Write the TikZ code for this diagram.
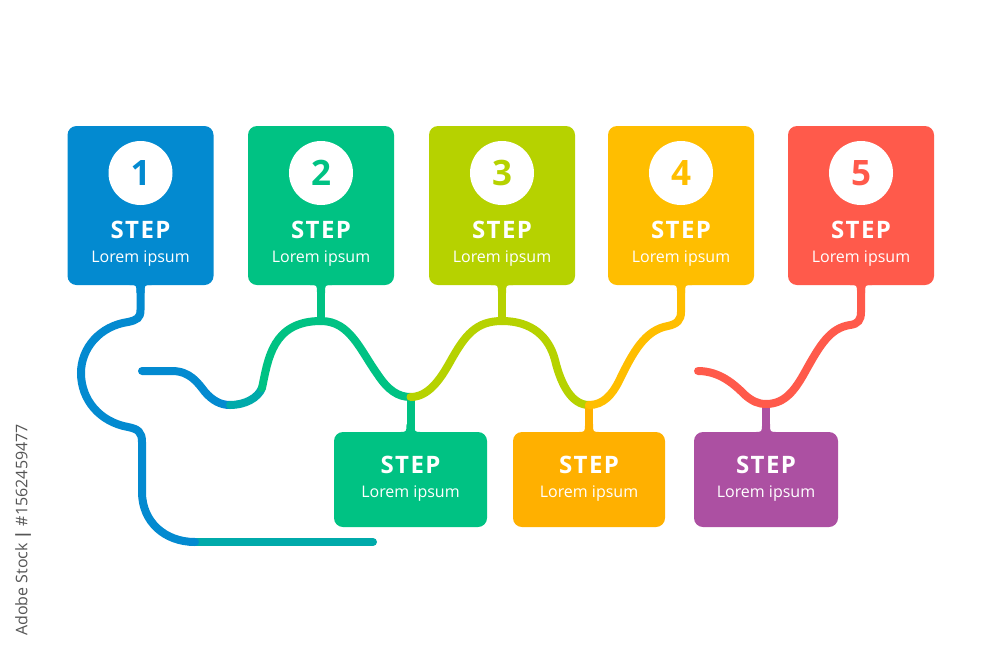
\documentclass[tikz,border=0pt]{standalone}
\usepackage{fontspec}
\setmainfont{Open Sans}
\definecolor{stepblue}{RGB}{3,138,208}
\definecolor{stepgreen}{RGB}{0,194,131}
\definecolor{steplime}{RGB}{182,210,0}
\definecolor{stepyellow}{RGB}{255,190,0}
\definecolor{stepred}{RGB}{255,90,75}
\definecolor{steporange}{RGB}{255,176,0}
\definecolor{steppurple}{RGB}{172,80,162}
\definecolor{stepteal}{RGB}{0,170,170}
\definecolor{markgray}{RGB}{85,85,85}

\begin{document}
\begin{tikzpicture}[x=1pt,y=-1pt,
    topbox/.style={rounded corners=9pt, minimum width=146pt, minimum height=159pt, inner sep=0pt},
    lowbox/.style={rounded corners=9pt, minimum height=95pt, inner sep=0pt},
    numdisc/.style={circle, fill=white, minimum size=64pt, inner sep=0pt, font=\fontsize{35}{35}\selectfont\bfseries},
    steptxt/.style={text=white, inner sep=0pt, font=\fontsize{24}{24}\selectfont\bfseries\addfontfeature{LetterSpace=6}},
    loremtxt/.style={text=white, inner sep=0pt, font=\fontsize{16}{16}\selectfont},
    wire/.style={line width=8pt, line cap=round}]
    \useasboundingbox (0,0) rectangle (1000,667);

    % upper boxes
    \foreach \n/\x/\c in {1/140.5/stepblue, 2/321/stepgreen, 3/502/steplime, 4/681/stepyellow, 5/861/stepred}{
        \node[topbox, fill=\c]       (s\n) at (\x,205.5) {};
        \node[numdisc, text=\c]      (n\n) at (\x,173)   {\n};
        \node[steptxt]               (h\n) at (\x,230)   {STEP};
        \node[loremtxt]              (l\n) at (\x,259)   {Lorem ipsum};
        \fill[\c] (\x-11,285) .. controls (\x-4,285) .. (\x-4,293) -- (\x+4,293) .. controls (\x+4,285) .. (\x+11,285) -- cycle;
    }

    % lower boxes
    \foreach \n/\x/\w/\c in {1/410.5/153/stepgreen, 2/589/152/steporange, 3/766/144/steppurple}{
        \node[lowbox, fill=\c, minimum width=\w pt] (b\n) at (\x,479.5) {};
        \node[steptxt]               (bh\n) at (\x,465)  {STEP};
        \node[loremtxt]              (bl\n) at (\x,494)  {Lorem ipsum};
        \fill[\c] (\x-11,432) .. controls (\x-4,432) .. (\x-4,424) -- (\x+4,424) .. controls (\x+4,432) .. (\x+11,432) -- cycle;
    }

    % junctions and loose ends
    \coordinate (w0) at (142,371);
    \coordinate (wt) at (230,405);
    \coordinate (wg) at (262,388);
    \coordinate (j1) at (410.5,397);
    \coordinate (j2) at (589,405);
    \coordinate (j3) at (766,404);
    \coordinate (r0) at (698,371);
    \coordinate (q0) at (195,542);
    \coordinate (q1) at (373,542);

    % blue loop from step 1
    \draw[wire, stepteal] (q0) -- (q1);
    \draw[wire, stepblue] (s1.south) -- (140.5,310) .. controls (140.5,318) and (137,320) .. (128,322)
        .. controls (100,326) and (81,348) .. (81,373) .. controls (81,400) and (100,422) .. (128,427)
        .. controls (138,429) and (142,432) .. (142,442) -- (142,492) .. controls (142,522) and (165,542) .. (q0);

    % wave
    \draw[wire, stepblue]  (w0) -- (172,371) .. controls (190,371) and (198,383) .. (205,392) .. controls (212,400) and (220,405) .. (wt);
    \draw[wire, stepteal]  (wt) .. controls (245,405) and (258,398) .. (wg);
    \draw[wire, stepgreen] (wg) .. controls (268,360) and (272,321) .. (321,321) .. controls (350,321) and (360,350) .. (378,375)
        .. controls (388,390) and (398,397) .. (j1);
    \draw[wire, stepgreen] (s2.south) -- (321,321);
    \draw[wire, stepgreen] (j1) -- (b1.north);
    \draw[wire, steplime]  (j1) .. controls (428,397) and (440,380) .. (450,362) .. controls (465,335) and (476,321) .. (502,321)
        .. controls (532,321) and (549,337) .. (555,360) .. controls (561,385) and (572,405) .. (j2);
    \draw[wire, steplime]  (s3.south) -- (502,321);
    \draw[wire, steporange] (j2) -- (b2.north);
    \draw[wire, stepyellow] (j2) .. controls (603,405) and (612,395) .. (619,381) .. controls (633,352) and (645,330) .. (668,326)
        .. controls (677,324) and (681,320) .. (681,312) -- (s4.south);
    \draw[wire, steppurple] (j3) -- (b3.north);
    \draw[wire, stepred] (r0) .. controls (720,371) and (735,385) .. (745,395) .. controls (752,401) and (758,404) .. (j3)
        .. controls (785,404) and (795,390) .. (805,372) .. controls (820,345) and (830,328) .. (850,325)
        .. controls (858,324) and (861,320) .. (861,312) -- (s5.south);

    % side mark
    \node[rotate=90, text=markgray, inner sep=0pt, font=\fontsize{16}{16}\selectfont] (mark) at (23,530) {Adobe Stock \textbf{|} \#1562459477};
\end{tikzpicture}
\end{document}
